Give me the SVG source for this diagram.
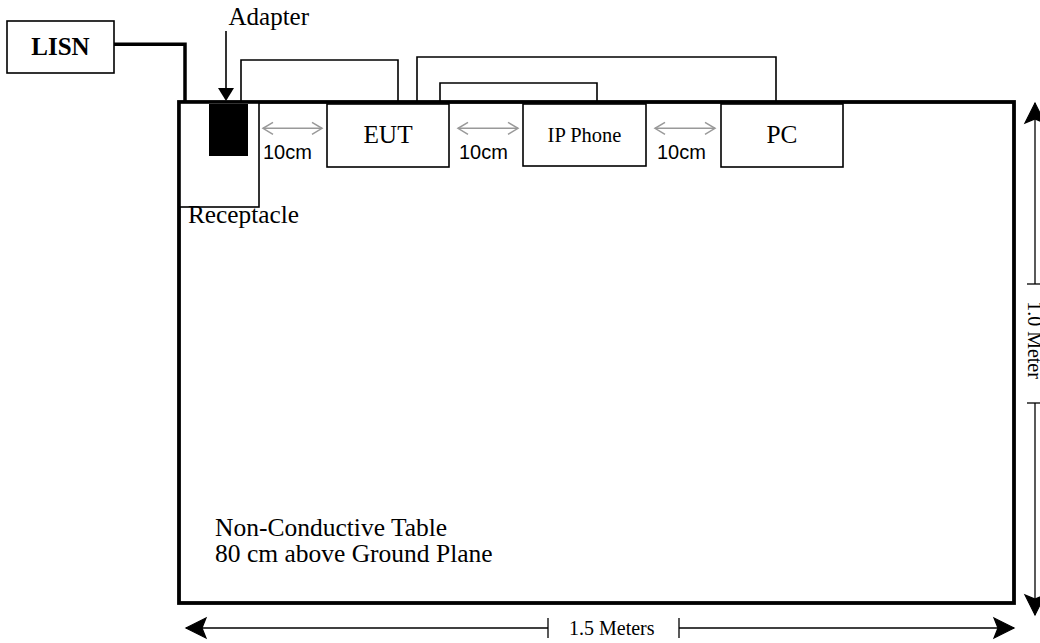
<svg xmlns="http://www.w3.org/2000/svg" width="1040" height="643" viewBox="0 0 1040 643">
<style>
.box{fill:#fff;stroke:#000;stroke-width:1.6}
.cable{fill:none;stroke:#000;stroke-width:1.6}
.serif{font-family:"Liberation Serif","Times New Roman",serif;fill:#000}
.sans{font-family:"Liberation Sans",Arial,sans-serif;fill:#000}
.dim{stroke:#000;stroke-width:1.3;fill:none}
.gap{stroke:#999;stroke-width:1.5;fill:none}
</style>
<defs>
<marker id="blk" markerUnits="userSpaceOnUse" viewBox="-3 -13 26 26" markerWidth="26" markerHeight="26" refX="20" refY="0" orient="auto-start-reverse" overflow="visible">
<path d="M0,-10 L20,0 L0,10 L4,0 Z" fill="#000" stroke="#000" stroke-width="1.2" stroke-linejoin="miter"/>
</marker>
<marker id="gry" markerUnits="userSpaceOnUse" viewBox="-2 -8 14 16" markerWidth="14" markerHeight="16" refX="10" refY="0" orient="auto-start-reverse" overflow="visible">
<path d="M0,-6 L10,0 L0,6" fill="none" stroke="#999" stroke-width="1.5"/>
</marker>
</defs>

<g id="table">
<rect x="179" y="102" width="835" height="501" fill="#fff" stroke="#000" stroke-width="3.8"/>
<text class="serif" x="215" y="536" font-size="25.5">Non-Conductive Table</text>
<text class="serif" x="215" y="562" font-size="25.5">80 cm above Ground Plane</text>
</g>

<g id="connectors">
<path d="M114,44.3 H185 V102" fill="none" stroke="#000" stroke-width="3.5"/>
<path class="cable" d="M241,102 V60 H398 V102"/>
<path class="cable" d="M417,102 V57 H776 V102"/>
<path class="cable" d="M440,102 V83 H597 V102"/>
<line x1="226" y1="31" x2="226" y2="90" stroke="#000" stroke-width="1.6"/>
<polygon points="218,88 234,88 226,101" fill="#000"/>
</g>

<g id="lisn">
<rect class="box" x="7" y="21" width="107" height="52"/>
<text class="serif" x="60.5" y="55" font-size="25" font-weight="bold" text-anchor="middle">LISN</text>
</g>

<g id="receptacle">
<rect class="box" x="180" y="103" width="79" height="104"/>
<text class="serif" x="188" y="223" font-size="25.3">Receptacle</text>
</g>

<g id="adapter">
<rect x="209" y="104" width="39" height="52" fill="#000"/>
<text class="serif" x="228.5" y="25" font-size="25">Adapter</text>
</g>

<g id="eut">
<rect class="box" x="327" y="104" width="122" height="63"/>
<text class="serif" x="388" y="143" font-size="25.3" text-anchor="middle">EUT</text>
</g>

<g id="ipphone">
<rect class="box" x="523" y="104" width="123" height="62"/>
<text class="serif" x="584.5" y="142" font-size="20.5" text-anchor="middle">IP Phone</text>
</g>

<g id="pc">
<rect class="box" x="721" y="104" width="122" height="63"/>
<text class="serif" x="782" y="142.5" font-size="25.3" text-anchor="middle">PC</text>
</g>

<g id="spacing">
<line class="gap" x1="263" y1="128.3" x2="322" y2="128.3" marker-start="url(#gry)" marker-end="url(#gry)"/>
<line class="gap" x1="458" y1="128.3" x2="518" y2="128.3" marker-start="url(#gry)" marker-end="url(#gry)"/>
<line class="gap" x1="655" y1="128.3" x2="715" y2="128.3" marker-start="url(#gry)" marker-end="url(#gry)"/>
<text class="sans" x="263" y="159.3" font-size="20">10cm</text>
<text class="sans" x="459" y="159.3" font-size="20">10cm</text>
<text class="sans" x="657" y="159.3" font-size="20">10cm</text>
</g>

<g id="dimension-width">
<line class="dim" x1="186" y1="628" x2="548" y2="628" marker-start="url(#blk)"/>
<line class="dim" x1="548" y1="618" x2="548" y2="638"/>
<line class="dim" x1="679" y1="628" x2="1014" y2="628" marker-end="url(#blk)"/>
<line class="dim" x1="679" y1="618" x2="679" y2="638"/>
<text class="serif" x="569" y="635" font-size="20">1.5 Meters</text>
</g>

<g id="dimension-depth">
<line class="dim" x1="1035" y1="103" x2="1035" y2="284" marker-start="url(#blk)"/>
<line class="dim" x1="1027" y1="284" x2="1043" y2="284"/>
<line class="dim" x1="1035" y1="403" x2="1035" y2="615" marker-end="url(#blk)"/>
<line class="dim" x1="1027" y1="403" x2="1043" y2="403"/>
<text class="serif" font-size="20" text-anchor="middle" transform="translate(1028,340) rotate(90)">1.0 Meter</text>
</g>
</svg>
